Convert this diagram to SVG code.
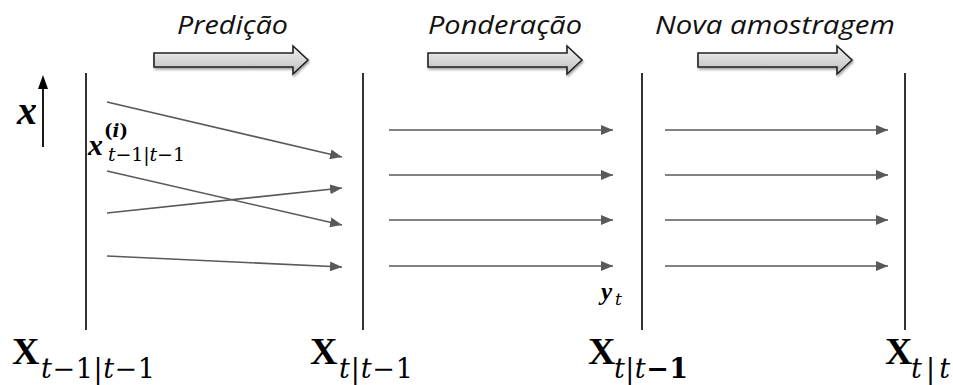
<svg xmlns="http://www.w3.org/2000/svg" width="953" height="385" viewBox="0 0 953 385">
<style>
.title{font-family:"Open Sans","Liberation Sans",sans-serif;font-style:italic;font-size:26px;fill:#111}
.bar{stroke:#000;stroke-width:1.6}
.conn{stroke:#595959;stroke-width:1.6;fill:none}
.math{font-family:"Liberation Serif","DejaVu Serif",serif;fill:#000}
.dv{font-family:"DejaVu Serif","Liberation Serif",serif;fill:#000}
.big{font-size:38px;font-weight:bold}
.sub{font-size:27px;font-style:italic}
.up{font-style:normal}
.blk{fill:url(#g);stroke:#222;stroke-width:1.6;filter:url(#sh)}
</style>
<defs>
<linearGradient id="g" x1="0" y1="0" x2="0" y2="1">
<stop offset="0" stop-color="#f2f2f2"/><stop offset="1" stop-color="#bdbdbd"/>
</linearGradient>
<filter id="sh" x="-10%" y="-30%" width="120%" height="170%">
<feDropShadow dx="1" dy="2" stdDeviation="1.2" flood-color="#000" flood-opacity="0.35"/>
</filter>
<marker id="ah" markerWidth="12" markerHeight="10" refX="12" refY="5" orient="auto" markerUnits="userSpaceOnUse">
<path d="M0,0 L12,5 L0,10 Z" fill="#595959"/>
</marker>
</defs>

<g id="step-predicao">
<text class="title" x="177" y="34" textLength="111" lengthAdjust="spacingAndGlyphs">Predição</text>
<path class="blk" d="M154,53 H293 V46 L308,60 L293,74 V67 H154 Z"/>
</g>
<g id="step-ponderacao">
<text class="title" x="428" y="34" textLength="154" lengthAdjust="spacingAndGlyphs">Ponderação</text>
<path class="blk" d="M428,53 H567 V46 L582,60 L567,74 V67 H428 Z"/>
</g>
<g id="step-nova">
<text class="title" x="655" y="34" textLength="240" lengthAdjust="spacingAndGlyphs">Nova amostragem</text>
<path class="blk" d="M698,53 H837 V46 L852,60 L837,74 V67 H698 Z"/>
</g>

<g id="axis">
<line x1="43" y1="147" x2="43" y2="87" stroke="#000" stroke-width="1.8"/>
<path d="M38,89 L43,75 L48,89 Z" fill="#000"/>
<text class="math" x="17" y="124" font-size="40" font-weight="bold" font-style="italic">x</text>
</g>

<g id="col-1">
<line class="bar" x1="86" y1="73" x2="86" y2="330"/>
<text class="math big" x="12" y="364">X</text>
<text class="dv sub" x="41" y="378" textLength="114" lengthAdjust="spacing">t<tspan class="up">−1|</tspan>t<tspan class="up">−1</tspan></text>
<text class="math" x="88" y="155" font-size="30" font-weight="bold" font-style="italic">x</text>
<text class="dv" x="104" y="137" font-size="18" font-weight="bold">(<tspan font-style="italic">i</tspan>)</text>
<text class="dv" x="108" y="161" font-size="19" font-style="italic" textLength="77" lengthAdjust="spacing">t<tspan class="up">−1|</tspan>t<tspan class="up">−1</tspan></text>
</g>
<g id="col-2">
<line class="bar" x1="363" y1="73" x2="363" y2="330"/>
<text class="math big" x="310" y="364">X</text>
<text class="dv sub" x="339" y="378" textLength="74" lengthAdjust="spacing">t<tspan class="up">|</tspan>t<tspan class="up">−1</tspan></text>
</g>
<g id="col-3">
<line class="bar" x1="642" y1="73" x2="642" y2="330"/>
<text class="math big" x="588" y="364">X</text>
<text class="dv sub" x="614" y="378" textLength="74" lengthAdjust="spacing">t<tspan class="up">|</tspan>t<tspan class="up" font-weight="bold">−1</tspan></text>
<text class="math" x="601" y="300" font-size="25" font-weight="bold" font-style="italic">y</text>
<text class="dv" x="615" y="305" font-size="17" font-style="italic">t</text>
</g>
<g id="col-4">
<line class="bar" x1="905" y1="73" x2="905" y2="330"/>
<text class="math big" x="885" y="364">X</text>
<text class="dv sub" x="911" y="378" textLength="39" lengthAdjust="spacing">t<tspan class="up">|</tspan>t</text>
</g>

<g id="connectors">
<line class="conn" marker-end="url(#ah)" x1="107" y1="102" x2="342" y2="157"/>
<line class="conn" marker-end="url(#ah)" x1="107" y1="171" x2="342" y2="225"/>
<line class="conn" marker-end="url(#ah)" x1="107" y1="213" x2="342" y2="188"/>
<line class="conn" marker-end="url(#ah)" x1="107" y1="256" x2="342" y2="267"/>
<line class="conn" marker-end="url(#ah)" x1="389" y1="130" x2="613" y2="130"/>
<line class="conn" marker-end="url(#ah)" x1="389" y1="175" x2="613" y2="175"/>
<line class="conn" marker-end="url(#ah)" x1="389" y1="220" x2="613" y2="220"/>
<line class="conn" marker-end="url(#ah)" x1="389" y1="266" x2="613" y2="266"/>
<line class="conn" marker-end="url(#ah)" x1="665" y1="130" x2="888" y2="130"/>
<line class="conn" marker-end="url(#ah)" x1="665" y1="175" x2="888" y2="175"/>
<line class="conn" marker-end="url(#ah)" x1="665" y1="220" x2="888" y2="220"/>
<line class="conn" marker-end="url(#ah)" x1="665" y1="266" x2="888" y2="266"/>
</g>
</svg>
